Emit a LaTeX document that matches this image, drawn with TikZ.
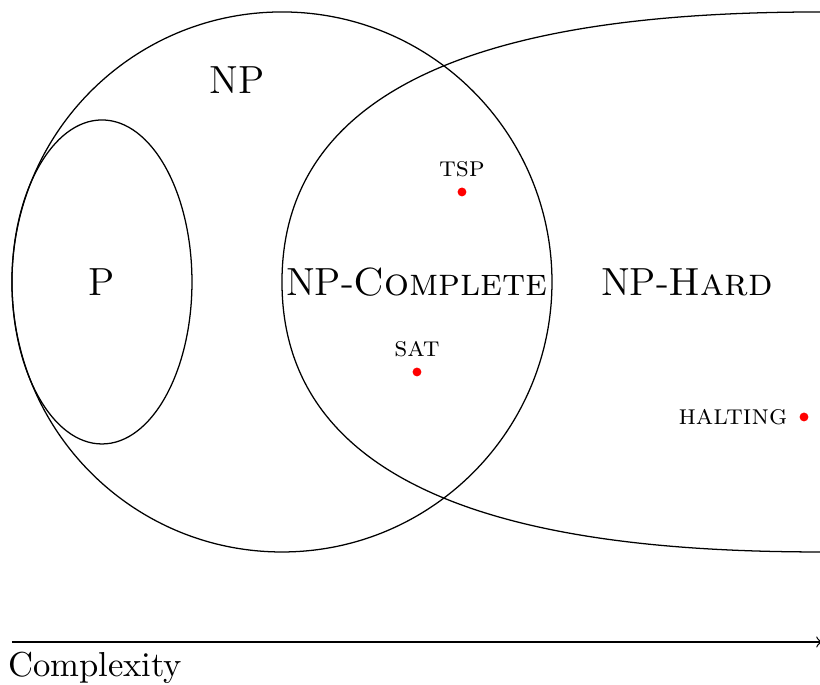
\documentclass[tikz,border=0pt]{standalone}
\usepackage{tikz}
\usetikzlibrary{positioning}

\begin{document}
\begin{tikzpicture}[font=\fontsize{10.95}{13}\selectfont,
        classname/.style={font=\fontsize{12.4}{14}\selectfont},
        problem/.style={circle, fill=red, inner sep=0pt, minimum size=2.8pt},
        probname/.style={font=\fontsize{9}{11}\selectfont\scshape, inner sep=1pt}]
    \useasboundingbox (-3.133,-4.478) rectangle (5.978,3.133);
    % the classes
    \draw (0,0) circle (3cm);
    \draw (-2,0) ellipse (1cm and 1.8cm);
    \draw (6,3) to[out=180, in=90] (0,0) to[out=-90, in=180] (6,-3);
    \node[classname] (np) at (-0.5,2.24) {NP};
    \node[classname] (p) at (-2,0) {P};
    \node[classname] (npc) at (1.5,0) {NP-\textsc{Complete}};
    \node[classname] (nph) at (4.5,0) {NP-\textsc{Hard}};
    % some problems
    \node[problem] (tsp) at (2,1) {};
    \node[probname, above=2pt of tsp] (tsplabel) {tsp};
    \node[problem] (sat) at (1.5,-1) {};
    \node[probname, above=2pt of sat] (satlabel) {sat};
    \node[problem] (halt) at (5.8,-1.5) {};
    \node[probname, left=2.5pt of halt] (haltlabel) {halting};
    % axis
    \coordinate (axstart) at (-3,-4);
    \coordinate (axend) at (6,-4);
    \draw[->] (axstart) -- (axend);
    \node[anchor=north west, inner sep=0pt] (cplx) at (-3.05,-4.1) {Complexity};
\end{tikzpicture}
\end{document}
